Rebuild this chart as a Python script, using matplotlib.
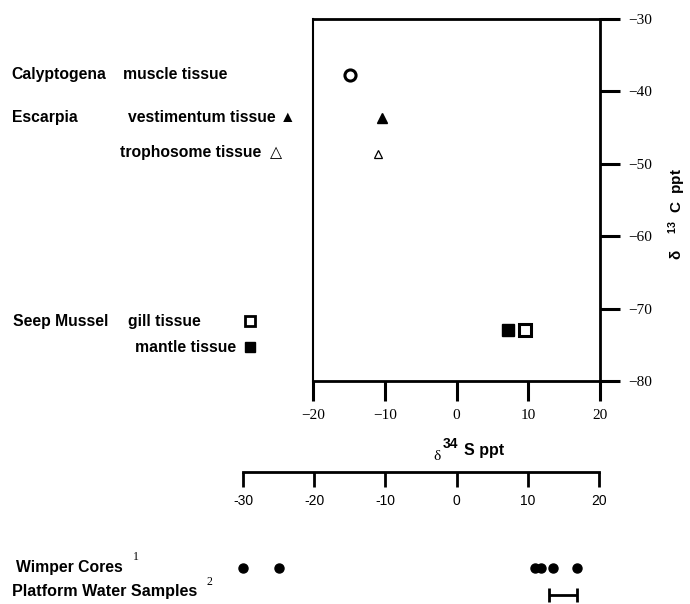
import matplotlib
matplotlib.use('Agg')
import matplotlib.pyplot as plt

plt.rcParams['font.family'] = ['Liberation Sans', 'DejaVu Sans']
plt.rcParams['mathtext.default'] = 'regular'

# Данные: изотопный состав тканей (верхний график)
samples = ['Calyptogena muscle', 'Escarpia vestimentum', 'Escarpia trophosome',
           'Seep Mussel mantle', 'Seep Mussel gill']
d34s = [-14.9, -10.4, -11.0, 7.2, 9.5]
d13c = [-37.7, -43.7, -48.7, -72.9, -72.9]

# Данные: δ34S сульфидов (нижняя шкала)
wimper_cores = [-30, -25, 11.0, 11.9, 13.6, 16.9]
platform_range = [13.0, 16.9]

top_xticks = [-20, -10, 0, 10, 20]
top_yticks = [-30, -40, -50, -60, -70, -80]
bottom_xticks = [-30, -20, -10, 0, 10, 20]

fig = plt.figure(figsize=(6.9, 6.04), dpi=100)

# Верхний график
ax = fig.add_axes([0.4536, 0.3692, 0.416, 0.5993])
styles = [
    dict(marker='o', ms=8, mfc='white', mec='black', mew=2.2),
    dict(marker='^', ms=7, mfc='black', mec='black', mew=1),
    dict(marker='^', ms=5.5, mfc='white', mec='black', mew=0.9),
    dict(marker='s', ms=8.5, mfc='black', mec='black', mew=1),
    dict(marker='s', ms=8, mfc='white', mec='black', mew=2.2),
]
for xs, ys, st in zip(d34s, d13c, styles):
    ax.plot(xs, ys, linestyle='none', **st)

ax.set_xlim(-20, 20)
ax.set_ylim(-80, -30)
ax.set_xticks(top_xticks)
ax.set_yticks(top_yticks)
ax.yaxis.tick_right()
ax.yaxis.set_label_position('right')
for s in ax.spines.values():
    s.set_linewidth(2)
ax.spines['left'].set_linewidth(1.5)
ax.tick_params(direction='out', length=14.4, width=2.2, pad=6)
for lab in ax.get_xticklabels() + ax.get_yticklabels():
    lab.set_family('Liberation Serif')
    lab.set_fontsize(11)

# Подписи осей
fig.text(0.628, 0.239, '\u03b4', fontsize=11, family='Liberation Serif', va='baseline')
fig.text(0.642, 0.259, '34', fontsize=10, fontweight='bold', va='baseline')
fig.text(0.673, 0.247, 'S ppt', fontsize=11.5, fontweight='bold', va='baseline')
fig.text(0.981, 0.645, '\u03b4    $^{13}$  C  ppt', fontsize=11, fontweight='bold',
         rotation=90, ha='center', va='center')

# Подписи слева
fs = 11.3
fig.text(0.017, 0.877, 'Calyptogena', fontsize=fs, va='center', fontweight='bold')
fig.text(0.178, 0.877, 'muscle tissue', fontsize=fs, va='center', fontweight='bold')
fig.text(0.017, 0.805, 'Escarpia', fontsize=fs, va='center', fontweight='bold')
fig.text(0.185, 0.805, 'vestimentum tissue \u25b2', fontsize=fs, va='center', fontweight='bold')
fig.text(0.174, 0.747, 'trophosome tissue  \u25b3', fontsize=fs, va='center', fontweight='bold')
fig.text(0.019, 0.468, 'Seep Mussel', fontsize=fs, va='center', fontweight='bold')
fig.text(0.185, 0.468, 'gill tissue', fontsize=fs, va='center', fontweight='bold')
fig.text(0.196, 0.425, 'mantle tissue', fontsize=fs, va='center', fontweight='bold')
fig.add_artist(plt.Line2D([0.3625], [0.469], marker='s', ms=7, mfc='white', mec='black',
                          mew=2, transform=fig.transFigure))
fig.add_artist(plt.Line2D([0.3625], [0.426], marker='s', ms=7.5, mfc='black', mec='black',
                          mew=1, transform=fig.transFigure))

# Нижняя шкала
ax2 = fig.add_axes([0.3522, 0.0, 0.516, 0.2185])
ax2.plot(wimper_cores, [1] * len(wimper_cores), 'o', color='black', ms=6.5, clip_on=False)
mid = sum(platform_range) / 2
ax2.errorbar(mid, 2, xerr=[[mid - platform_range[0]], [platform_range[1] - mid]],
             color='black', lw=2, capsize=5, capthick=2, clip_on=False)
ax2.set_xlim(-30, 20)
ax2.set_ylim(2.333, -2.556)
ax2.set_yticks([])
ax2.set_xticks(bottom_xticks)
ax2.set_xticklabels([str(t) for t in bottom_xticks])
for side in ['left', 'right', 'top']:
    ax2.spines[side].set_visible(False)
ax2.spines['bottom'].set_position(('axes', 1.0))
ax2.spines['bottom'].set_linewidth(2)
ax2.tick_params(axis='x', direction='out', length=10.8, width=2, pad=5, labelsize=10)
ax2.patch.set_visible(False)

fig.text(0.023, 0.061, 'Wimper Cores', fontsize=fs, va='center', fontweight='bold')
fig.text(0.193, 0.077, '1', fontsize=8.5, va='center', family='Liberation Serif')
fig.text(0.017, 0.021, 'Platform Water Samples', fontsize=fs + 0.3, va='center', fontweight='bold')
fig.text(0.299, 0.036, '2', fontsize=8.5, va='center', family='Liberation Serif')

fig.savefig('out.png', dpi=100)
